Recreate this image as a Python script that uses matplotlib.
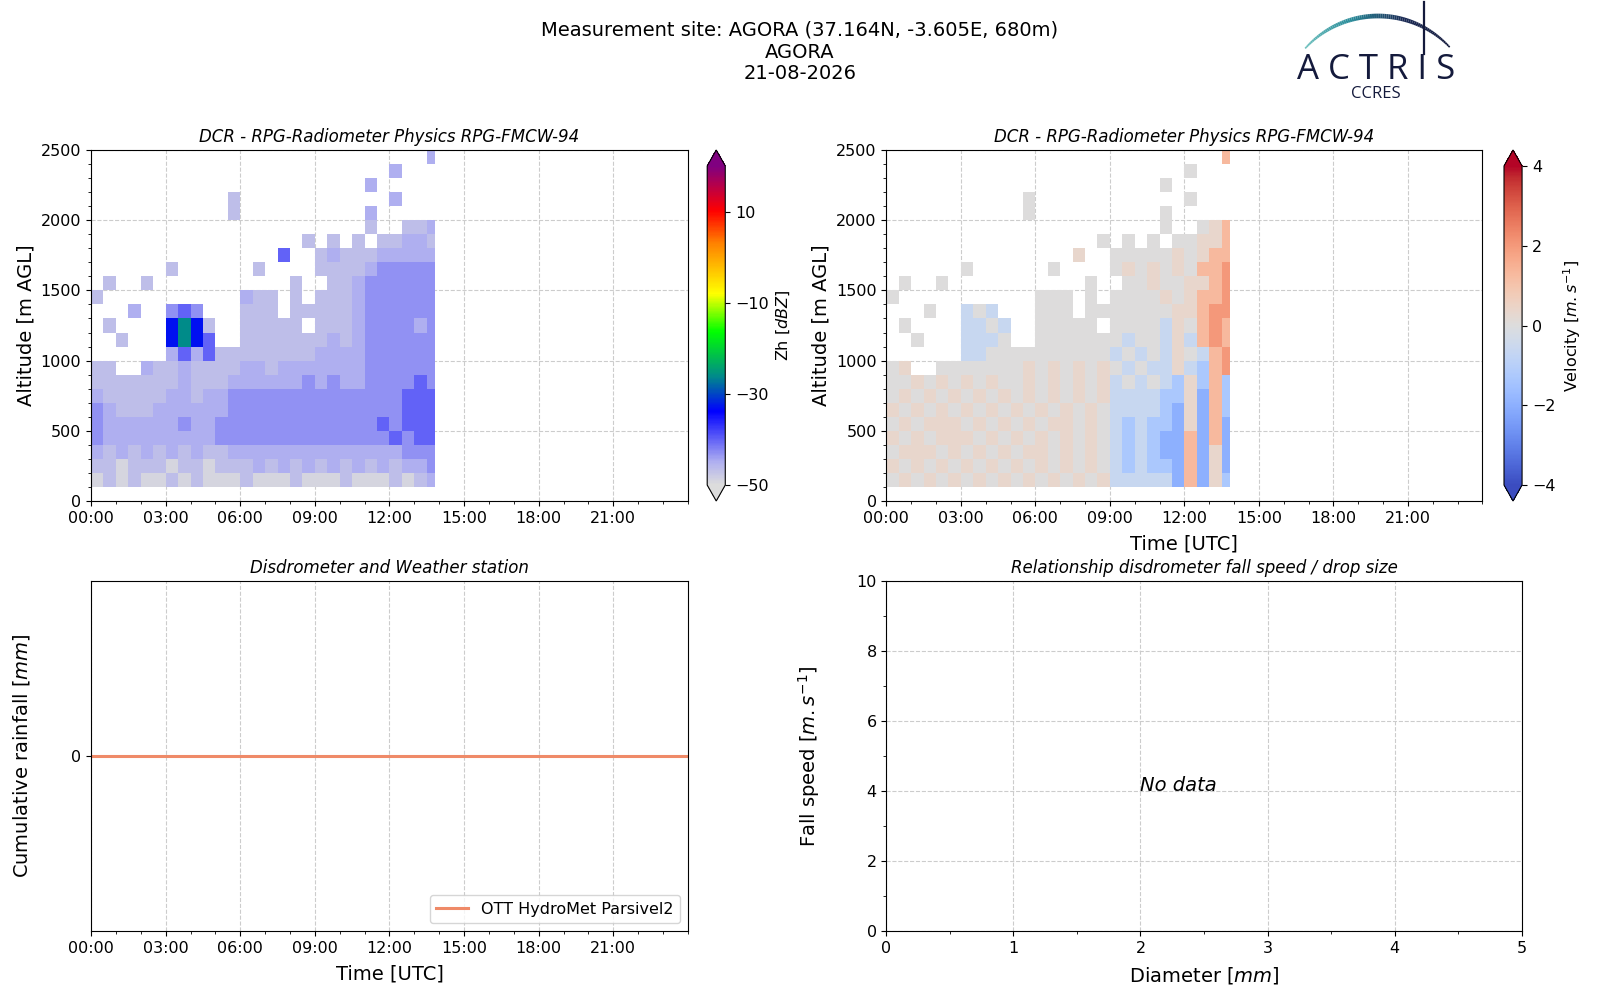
import numpy as np
import matplotlib
matplotlib.use('Agg')
import matplotlib.pyplot as plt
from matplotlib.colors import LinearSegmentedColormap
from matplotlib.collections import LineCollection
from matplotlib.ticker import MultipleLocator, FuncFormatter

site_title = "Measurement site: AGORA (37.164N, -3.605E, 680m)\nAGORA\n21-08-2026"
radar_name = "DCR - RPG-Radiometer Physics RPG-FMCW-94"
disdro_name = "OTT HydroMet Parsivel2"

# radar blocks: 30 min wide (00:00 -> 13:51), 100 m high (100 -> 2500 m)
block_hours = 0.5
last_profile_h = 13.85
alt_bottom = 100
alt_step = 100

# reflectivity codes, rows from 2400 m (top) down to 100 m
zh_rows = [
    "...........................2",
    "........................2...",
    "......................2.....",
    "...........1............2...",
    "...........1..........2.....",
    "......................1..112",
    ".................1.1.1.11221",
    "...............4..1211122222",
    "......1......1....1111233333",
    ".1..1...........1..112333333",
    "1...........211.1.1112333333",
    "...2..343...111.111112333333",
    ".1....5651..11111.1112333323",
    "..1...5654..1111111212333333",
    "......2424111111112222333333",
    "11..211211112212222222333333",
    "1111111211122222232322333343",
    "2111112212233333333333333444",
    "3211122222233333333333333444",
    "3222222322333333333333343444",
    "3222222222333333333333334344",
    "2121212121122222222222222333",
    "1101110110111212121212121223",
    "0101001010001000100010001012",
]
zh_codes = {'0': -49, '1': -46.5, '2': -45, '3': -43, '4': -40,
            '5': -33, '6': -26, '7': -21}

# doppler velocity codes, same blocks
vel_rows = [
    "4444444444444444444444444446",
    "4444444444444444444444444444",
    "4444444444444444444444444444",
    "4444444444444444444444444444",
    "4444444444444444444444444444",
    "4444444444444444444444444456",
    "4444444444444444444444444556",
    "4444444444444445444444454566",
    "4444444444444444444545454667",
    "4444444444444444444445445567",
    "4444444444444444444444545667",
    "4444443434444444444444455677",
    "4444443343444444444444354676",
    "4444443334444444444344353676",
    "4444443344444444443434354367",
    "4544444444454545454343353267",
    "4454545454454545453434325262",
    "4545454545454545453333225162",
    "5454545454545454543333215162",
    "4545554545454554543232215161",
    "5454555454545454543232116161",
    "4555454545455454543232116151",
    "5454545454545454543232216151",
    "4545454545454545453333316152",
]
vel_codes = {'0': -3.0, '1': -2.0, '2': -1.3, '3': -0.6, '4': 0.0,
             '5': 0.35, '6': 1.3, '7': 2.0, '8': 3.0}

# cumulative rainfall from the disdrometer (no rain that day)
rain_hours = [0, 24]
rain_cum = [0, 0]

# reflectivity colour map
zh_stops = [0, 0.07, 0.23, 0.34, 0.48, 0.6, 0.76, 0.86, 1.0]
zh_colors = ['#dcdcdc', '#b0b0f0', '#0000ff', '#008a8a', '#00ff00',
             '#ffff00', '#ff8000', '#ff0000', '#800080']
zh_cmap = LinearSegmentedColormap.from_list('zh', list(zip(zh_stops, zh_colors)))

zh = np.array([[zh_codes.get(c, np.nan) for c in r] for r in zh_rows[::-1]])
vel = np.array([[vel_codes[c] for c in r] for r in vel_rows[::-1]])
vel[np.isnan(zh)] = np.nan

n_alt, n_time = zh.shape
t_edges = np.append(np.arange(n_time) * block_hours, last_profile_h)
a_edges = alt_bottom + np.arange(n_alt + 1) * alt_step


def hhmm(x, pos):
    return "%02d:00" % int(round(x))


def time_axis(ax):
    ax.set_xlim(0, 24)
    ax.xaxis.set_major_locator(MultipleLocator(3))
    ax.xaxis.set_minor_locator(MultipleLocator(1))
    ax.xaxis.set_major_formatter(FuncFormatter(hhmm))
    ax.set_xticks([0, 3, 6, 9, 12, 15, 18, 21])


def grid(ax):
    ax.grid(True, which='major', ls='--', color='#cccccc', lw=0.8)
    ax.set_axisbelow(True)


fs_tick = 11.5
fs_lab = 14
fs_title = 12

fig = plt.figure(figsize=(16, 10), dpi=100)
ax_zh = fig.add_axes([0.0569, 0.499, 0.373, 0.351])
cax_zh = fig.add_axes([0.442, 0.499, 0.0113, 0.351])
ax_v = fig.add_axes([0.554, 0.499, 0.3725, 0.351])
cax_v = fig.add_axes([0.94, 0.499, 0.0113, 0.351])
ax_r = fig.add_axes([0.0569, 0.069, 0.373, 0.35])
ax_d = fig.add_axes([0.554, 0.069, 0.397, 0.35])

# reflectivity
m1 = ax_zh.pcolormesh(t_edges, a_edges, zh, cmap=zh_cmap, vmin=-50, vmax=20)
ax_zh.set_ylim(0, 2500)
time_axis(ax_zh)
ax_zh.yaxis.set_major_locator(MultipleLocator(500))
ax_zh.yaxis.set_minor_locator(MultipleLocator(100))
ax_zh.set_ylabel("Altitude [m AGL]", fontsize=fs_lab)
ax_zh.set_title(radar_name, fontsize=fs_title, style='italic')
grid(ax_zh)
cb1 = fig.colorbar(m1, cax=cax_zh, extend='both', ticks=[-50, -30, -10, 10])
cb1.set_label("Zh [$dBZ$]", fontsize=fs_tick)
cb1.ax.tick_params(labelsize=fs_tick)

# velocity
m2 = ax_v.pcolormesh(t_edges, a_edges, vel, cmap='coolwarm', vmin=-4, vmax=4)
ax_v.set_ylim(0, 2500)
time_axis(ax_v)
ax_v.yaxis.set_major_locator(MultipleLocator(500))
ax_v.yaxis.set_minor_locator(MultipleLocator(100))
ax_v.set_ylabel("Altitude [m AGL]", fontsize=fs_lab)
ax_v.set_xlabel("Time [UTC]", fontsize=fs_lab, labelpad=6)
ax_v.set_title(radar_name, fontsize=fs_title, style='italic')
grid(ax_v)
cb2 = fig.colorbar(m2, cax=cax_v, extend='both', ticks=[-4, -2, 0, 2, 4])
cb2.set_label("Velocity [$m.s^{-1}$]", fontsize=fs_tick)
cb2.ax.tick_params(labelsize=fs_tick)

# rainfall
ax_r.plot(rain_hours, rain_cum, color='#ef8a68', lw=2.2, label=disdro_name)
time_axis(ax_r)
ax_r.set_ylim(-1, 1)
ax_r.set_yticks([0])
ax_r.set_ylabel("Cumulative rainfall [$mm$]", fontsize=fs_lab)
ax_r.yaxis.set_label_coords(-0.099, 0.5)
ax_r.set_xlabel("Time [UTC]", fontsize=fs_lab, labelpad=6)
ax_r.set_title("Disdrometer and Weather station", fontsize=fs_title, style='italic')
ax_r.legend(loc='lower right', fontsize=fs_tick)
grid(ax_r)

# fall speed / drop size
ax_d.set_xlim(0, 5)
ax_d.set_ylim(0, 10)
ax_d.xaxis.set_major_locator(MultipleLocator(1))
ax_d.xaxis.set_minor_locator(MultipleLocator(0.5))
ax_d.yaxis.set_major_locator(MultipleLocator(2))
ax_d.yaxis.set_minor_locator(MultipleLocator(1))
ax_d.set_xlabel("Diameter [$mm$]", fontsize=fs_lab, labelpad=7)
ax_d.set_ylabel("Fall speed [$m.s^{-1}$]", fontsize=fs_lab)
ax_d.yaxis.set_label_coords(-0.101, 0.5)
ax_d.set_title("Relationship disdrometer fall speed / drop size", fontsize=fs_title, style='italic')
ax_d.text(2, 4, "No data", fontsize=14, style='italic')
grid(ax_d)

for ax in [ax_zh, ax_v, ax_r, ax_d]:
    ax.tick_params(labelsize=fs_tick)

fig.text(0.5, 0.979, site_title, ha='center', va='top', fontsize=14, linespacing=1.18)

# ACTRIS / CCRES logo, drawn in pixel coordinates
lg = fig.add_axes([0, 0, 1, 1], zorder=-1)
lg.set_xlim(0, 1600)
lg.set_ylim(1000, 0)
lg.axis('off')
ang = np.linspace(np.radians(138), np.radians(43), 80)
ax_pts = 1378 + 98 * np.cos(ang)
ay_pts = 114 - 98 * np.sin(ang)
pts = np.column_stack([ax_pts, ay_pts]).reshape(-1, 1, 2)
segs = np.concatenate([pts[:-1], pts[1:]], axis=1)
frac = np.linspace(0, 1, len(segs))
arc_cmap = LinearSegmentedColormap.from_list('arc', ['#6cc0bd', '#2a8c9a', '#1b2a55', '#141a3c'])
lc = LineCollection(segs, colors=arc_cmap(frac), linewidths=1.2 + 2.2 * np.sin(np.pi * frac))
lg.add_collection(lc)
lg.plot([1424, 1424], [2, 54], color='#141a3c', lw=1.6)
lg.text(1376, 70, "A C T R I S", ha='center', va='center', fontsize=25,
        family='Open Sans', color='#141a3c')
lg.text(1376, 94, "CCRES", ha='center', va='center', fontsize=12,
        family='Open Sans', color='#141a3c')

fig.savefig("out.png", dpi=100)
